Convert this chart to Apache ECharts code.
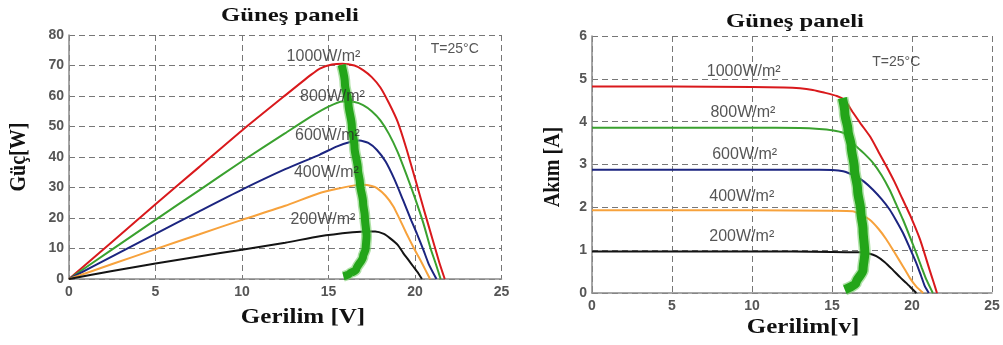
<!DOCTYPE html>
<html>
<head>
<meta charset="utf-8">
<script src="https://cdn.jsdelivr.net/npm/echarts@6/dist/echarts.min.js"></script>
<style>html,body{margin:0;padding:0;background:#fff}#c{width:1003px;height:345px}</style>
</head>
<body>
<div id="c"></div>
<script>
// ---- data ----
const irradianceLabels = ['1000W/m²', '800W/m²', '600W/m²', '400W/m²', '200W/m²'];
const xTicks = [0, 5, 10, 15, 20, 25];
const powerTicks = [0, 10, 20, 30, 40, 50, 60, 70, 80];
const currentTicks = [0, 1, 2, 3, 4, 5, 6];

// P-V curves [V, P]
const pv1000 = [[0,0],[2.5,12.2],[5,24.5],[7.5,36.6],[10,48.7],[12.5,60.2],[14,67],[14.5,69],[15.2,70.3],[15.8,70.6],[16.5,70],[17,68.5],[17.5,66.2],[18,62.8],[18.5,57.6],[19,51.5],[19.5,42.8],[20,33],[20.5,23],[21,13.3],[21.4,5.5],[21.72,0]];
const pv800 = [[0,0],[2.5,9.7],[5,19.4],[7.5,29],[10,38.6],[12.5,47.8],[14,53.3],[15,56.5],[15.8,58.2],[16.5,58],[17,57],[17.5,55],[18,52],[18.5,47.5],[19,41.6],[19.5,34.3],[20,26.5],[20.5,18],[20.9,10],[21.2,5],[21.48,0]];
const pv600 = [[0,0],[2.5,7.4],[5,14.8],[7.5,22.1],[10,29.3],[12.5,36],[14.5,40.8],[15.5,43.5],[16.3,45],[16.8,45.4],[17.3,44.6],[17.8,42.3],[18.3,38.5],[18.8,32.8],[19.3,26],[19.8,19],[20.1,15],[20.5,9.3],[20.8,4.8],[21.24,0]];
const pv400 = [[0,0],[2.5,4.9],[5,9.8],[7.5,14.6],[10,19.4],[12.5,24],[14.5,28.2],[15.7,29.8],[16.5,30.7],[17,30.9],[17.5,30.5],[17.8,29.8],[18.3,27.3],[18.75,23.8],[19.1,19.8],[19.5,15],[19.9,10.5],[20.3,6.3],[20.6,3],[20.87,0]];
const pv200 = [[0,0],[2.5,2.6],[5,5.1],[7.5,7.4],[10,9.6],[12.5,11.9],[14.5,14],[16.4,15.3],[17.2,15.6],[17.7,15.6],[18.2,14.8],[18.55,13.4],[19,11.2],[19.32,8.5],[19.65,6],[19.9,4.1],[20.2,1.8],[20.4,0]];
const pvMpp = [[15.76,70.2],[15.95,64],[16.15,57.6],[16.35,50],[16.5,43.4],[16.7,36],[16.82,31.4],[17.0,25],[17.1,20.5],[17.2,14],[17.15,10],[17.0,7.4],[16.6,3],[16.2,1.6],[15.86,0.9]];

// I-V curves [V, I]
const iv1000 = [[0,4.82],[5,4.82],[10,4.81],[12,4.8],[13,4.78],[13.8,4.74],[14.5,4.68],[15.3,4.6],[15.8,4.5],[16.3,4.22],[16.8,3.95],[17.4,3.64],[17.9,3.3],[18.4,2.96],[18.9,2.6],[19.4,2.2],[19.9,1.8],[20.5,1.25],[21.1,0.54],[21.35,0.25],[21.56,0]];
const iv800 = [[0,3.86],[5,3.86],[10,3.86],[13,3.85],[14.2,3.83],[15,3.8],[15.7,3.74],[16.1,3.6],[16.5,3.43],[17,3.26],[17.56,3.04],[18.1,2.75],[18.6,2.41],[19,2.08],[19.44,1.71],[19.85,1.33],[20.27,0.93],[20.6,0.6],[20.9,0.31],[21.3,0]];
const iv600 = [[0,2.88],[5,2.88],[10,2.88],[14.2,2.88],[15,2.87],[15.7,2.84],[16.1,2.79],[16.5,2.72],[17,2.6],[17.56,2.41],[18.1,2.19],[18.6,1.95],[19,1.7],[19.44,1.4],[19.85,1.06],[20.27,0.7],[20.55,0.42],[20.8,0.16],[21.05,0]];
const iv400 = [[0,1.93],[5,1.93],[10,1.93],[15,1.92],[16.3,1.91],[16.8,1.83],[17.36,1.71],[17.9,1.5],[18.4,1.25],[18.9,0.95],[19.44,0.62],[19.85,0.36],[20.27,0.15],[20.7,0]];
const iv200 = [[0,0.97],[5,0.97],[10,0.97],[15,0.96],[16.73,0.95],[17.3,0.92],[17.77,0.86],[18.3,0.72],[18.8,0.54],[19.25,0.37],[19.65,0.23],[20,0.1],[20.27,0]];
const ivMpp = [[15.65,4.55],[15.8,4.2],[16.0,3.8],[16.2,3.43],[16.4,2.9],[16.6,2.41],[16.8,1.9],[16.94,1.48],[17.05,0.93],[16.94,0.54],[16.5,0.23],[15.8,0.08]];

// ---- chart ----
const colors = ['#d9191c', '#3aa12f', '#1c2580', '#f7a23c', '#141414'];
const mppColor = '#23a519';
const chart = echarts.init(document.getElementById('c'));

function curve(data, color, gi) {
  return { type: 'line', xAxisIndex: gi, yAxisIndex: gi, data: data, symbol: 'none',
    smooth: 0.2,
    lineStyle: { color: color, width: 2 }, z: 3, silent: true, animation: false };
}
function mpp(data, gi, w) {
  return [
    { type: 'line', xAxisIndex: gi, yAxisIndex: gi, data: data, symbol: 'none', smooth: 0.3, smoothMonotone: 'y',
      lineStyle: { color: '#6cc85c', width: w + 3, opacity: 0.55, cap: 'butt', join: 'round' }, z: 4, animation: false },
    { type: 'line', xAxisIndex: gi, yAxisIndex: gi, data: data, symbol: 'none', smooth: 0.3, smoothMonotone: 'y',
      lineStyle: { color: mppColor, width: w, cap: 'butt', join: 'round' }, z: 5, animation: false }
  ];
}
function labels(pts, gi) {
  return { type: 'scatter', xAxisIndex: gi, yAxisIndex: gi, symbolSize: 0, z: 6, animation: false,
    data: pts.map(p => ({ value: [p[0], p[1]], label: { show: true, formatter: p[2], position: 'inside',
      fontFamily: 'Liberation Sans, Arial', fontSize: p[3] || 16, color: '#2b2b2b' } })) };
}
function xAx(gi) {
  return { type: 'value', gridIndex: gi, min: 0, max: 25, interval: 5,
    axisLine: { show: true, lineStyle: { color: '#8a8a8a', width: 1.5 } },
    axisTick: { show: false },
    axisLabel: { color: '#555', fontSize: 14, fontWeight: 'bold', fontFamily: 'Liberation Sans, Arial', margin: 6,
      formatter: v => xTicks.includes(v) ? String(v) : '' },
    splitLine: { show: true, lineStyle: { color: '#777', width: 1, type: [6, 4] } } };
}
function yAx(gi, max, ticks) {
  return { type: 'value', gridIndex: gi, min: 0, max: max, interval: ticks[1] - ticks[0],
    axisLine: { show: true, lineStyle: { color: '#8a8a8a', width: 1.5 } },
    axisTick: { show: false },
    axisLabel: { color: '#555', fontSize: 14, fontWeight: 'bold', fontFamily: 'Liberation Sans, Arial', margin: 5,
      formatter: v => ticks.includes(v) ? String(v) : '' },
    splitLine: { show: true, lineStyle: { color: '#777', width: 1, type: [6, 4] } } };
}
function txt(x, y, s, size, rot, sx) {
  return { type: 'text', x: x, y: y, rotation: rot || 0, scaleX: sx || 1, z: 10,
    style: { text: s, font: 'bold ' + size + 'px "Liberation Serif", "Times New Roman", serif', fill: '#111',
      align: 'center', verticalAlign: 'middle' } };
}

const option = {
  animation: false,
  grid: [
    { left: 69, top: 35, width: 432.5, height: 244, outerBoundsMode: 'none' },
    { left: 592, top: 36, width: 400, height: 257, outerBoundsMode: 'none' }
  ],
  xAxis: [xAx(0), xAx(1)],
  yAxis: [yAx(0, 80, powerTicks), yAx(1, 6, currentTicks)],
  graphic: [
    txt(290, 16, 'Güneş paneli', 19, 0, 1.3),
    txt(795, 22, 'Güneş paneli', 19, 0, 1.3),
    txt(303, 318, 'Gerilim [V]', 20, 0, 1.25),
    txt(803, 328, 'Gerilim[v]', 20, 0, 1.25),
    { ...txt(19, 157, 'Güç[W]', 20, Math.PI / 2, 1), scaleY: 1.15 },
    { ...txt(553, 167, 'Akım [A]', 20, Math.PI / 2, 1), scaleY: 1.15 }
  ],
  series: [
    curve(pv1000, colors[0], 0), curve(pv800, colors[1], 0), curve(pv600, colors[2], 0),
    curve(pv400, colors[3], 0), curve(pv200, colors[4], 0),
    ...mpp(pvMpp, 0, 8),
    curve(iv1000, colors[0], 1), curve(iv800, colors[1], 1), curve(iv600, colors[2], 1),
    curve(iv400, colors[3], 1), curve(iv200, colors[4], 1),
    ...mpp(ivMpp, 1, 9),
    labels([
      [14.71, 72.8, irradianceLabels[0]], [15.23, 59.7, irradianceLabels[1]], [14.94, 46.9, irradianceLabels[2]],
      [14.88, 34.8, irradianceLabels[3]], [14.68, 19.4, irradianceLabels[4]], [22.3, 75.3, 'T=25°C', 14]
    ], 0),
    labels([
      [9.48, 5.17, irradianceLabels[0]], [9.43, 4.21, irradianceLabels[1]], [9.54, 3.23, irradianceLabels[2]],
      [9.36, 2.25, irradianceLabels[3]], [9.36, 1.31, irradianceLabels[4]], [19.02, 5.4, 'T=25°C', 14]
    ], 1)
  ]
};
chart.setOption(option);
</script>
</body>
</html>
